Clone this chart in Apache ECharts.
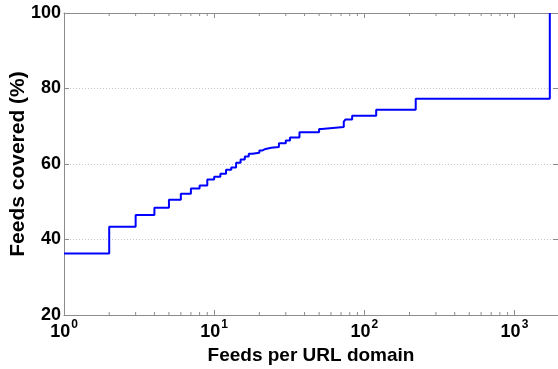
<!DOCTYPE html>
<html>
<head>
<meta charset="utf-8">
<script src="https://cdn.jsdelivr.net/npm/echarts@6/dist/echarts.min.js"></script>
<style>
  html, body { margin: 0; padding: 0; background: #fff; }
  #chart { width: 558px; height: 369px; }
</style>
</head>
<body>
<div id="chart"></div>
<script>
// Cumulative share of feeds covered vs. feeds per URL domain (step curve)
const feedsPerDomain = [1, 2, 3, 4, 5, 6, 7, 8, 9, 10, 11, 12, 13, 14, 15, 16, 17, 18, 20, 21, 22, 24,
  27, 30, 32, 37, 50, 52, 73, 75, 83, 120, 220, 1720];
const feedsCovered = [36.3, 43.4, 46.5, 48.4, 50.5, 52.1, 53.5, 54.3, 55.9, 56.6, 57.4, 58.5, 59.1, 60.3,
  61.2, 62.0, 62.7, 63.0, 63.6, 64.0, 64.3, 64.5, 65.5, 66.2, 67.0, 68.4, 69.3, 69.8, 71.2, 71.8,
  72.8, 74.4, 77.3, 100];

// Log-axis minor tick positions (2..9 in each decade)
const minorTicks = [2, 3, 4, 5, 6, 7, 8, 9, 20, 30, 40, 50, 60, 70, 80, 90, 200, 300, 400, 500, 600, 700, 800, 900];
const yTicks = [20, 40, 60, 80, 100];
const yTitle = 'Feeds covered (%)';
const xTitle = 'Feeds per URL domain';

const FONT = "'Liberation Sans', Arial, sans-serif";
const AXIS_GRAY = '#8c8c8c';
const X_MIN = 1, X_MAX = 1950;

const chart = echarts.init(document.getElementById('chart'), null, { renderer: 'canvas' });

function powLabel(v) {
  const e = Math.log10(v);
  const r = Math.round(e);
  if (Math.abs(e - r) > 1e-6) return '';
  return '{b|10}{s|' + r + '}';
}

const labelRich = {
  b: { fontFamily: FONT, fontWeight: 'bold', fontSize: 18, color: '#000', lineHeight: 22, verticalAlign: 'bottom' },
  s: { fontFamily: FONT, fontWeight: 'bold', fontSize: 12, color: '#000', lineHeight: 22, verticalAlign: 'top', padding: [0, 0, 0, 1] }
};

chart.setOption({
  animation: false,
  backgroundColor: '#fff',
  grid: { left: 64, right: 0, top: 13, bottom: 54, containLabel: false, outerBoundsMode: 'none' },
  // vertical axis title, placed beside the y tick labels
  graphic: [{
    type: 'text',
    x: 18, y: 164,
    rotation: Math.PI / 2,
    style: {
      text: yTitle,
      fontFamily: FONT, fontWeight: 'bold', fontSize: 21, fill: '#000',
      align: 'center', verticalAlign: 'middle'
    },
    silent: true
  }],
  xAxis: [
    {
      type: 'log', logBase: 10, min: X_MIN, max: X_MAX, position: 'bottom',
      name: xTitle, nameLocation: 'middle', nameGap: 31,
      nameTextStyle: { fontFamily: FONT, fontWeight: 'bold', fontSize: 19, color: '#000' },
      axisLine: { show: true, lineStyle: { color: AXIS_GRAY, width: 1 } },
      axisTick: { show: true, inside: true, length: 5, lineStyle: { color: AXIS_GRAY } },
      axisLabel: { formatter: powLabel, rich: labelRich, margin: 4, showMaxLabel: false },
      splitLine: { show: false }
    },
    {
      type: 'log', logBase: 10, min: X_MIN, max: X_MAX, position: 'top',
      axisLine: { show: true, lineStyle: { color: AXIS_GRAY, width: 1 } },
      axisTick: { show: true, inside: true, length: 5, lineStyle: { color: AXIS_GRAY } },
      axisLabel: { show: false },
      splitLine: { show: false }
    }
  ],
  yAxis: [
    {
      type: 'value', min: yTicks[0], max: yTicks[yTicks.length - 1], interval: 20, position: 'left',
      axisLine: { show: true, lineStyle: { color: AXIS_GRAY, width: 1 } },
      axisTick: { show: true, inside: true, length: 5, lineStyle: { color: AXIS_GRAY } },
      axisLabel: { fontFamily: FONT, fontWeight: 'bold', fontSize: 18, color: '#000', margin: 3 },
      splitLine: { show: true, showMinLine: false, showMaxLine: false, lineStyle: { color: '#c8c8c8', type: [1, 2], width: 1 } }
    },
    {
      type: 'value', min: yTicks[0], max: yTicks[yTicks.length - 1], interval: 20, position: 'right',
      axisLine: { show: true, lineStyle: { color: AXIS_GRAY, width: 1 } },
      axisTick: { show: true, inside: true, length: 5, lineStyle: { color: AXIS_GRAY } },
      axisLabel: { show: false },
      splitLine: { show: false }
    }
  ],
  series: [
    {
      type: 'custom',
      silent: true,
      xAxisIndex: 0, yAxisIndex: 0,
      data: minorTicks.map(v => [v, yTicks[0]]),
      encode: { x: 0, y: 1 },
      clip: false,
      renderItem: function (params, api) {
        const v = api.value(0);
        const bot = api.coord([v, yTicks[0]]);
        const top = api.coord([v, yTicks[yTicks.length - 1]]);
        const style = { stroke: AXIS_GRAY, lineWidth: 1 };
        return {
          type: 'group',
          children: [
            { type: 'line', shape: { x1: bot[0], y1: bot[1], x2: bot[0], y2: bot[1] - 3 }, style },
            { type: 'line', shape: { x1: top[0], y1: top[1], x2: top[0], y2: top[1] + 3 }, style }
          ]
        };
      },
      z: 1
    },
    {
      type: 'line',
      xAxisIndex: 0, yAxisIndex: 0,
      step: 'end',
      showSymbol: false,
      data: feedsPerDomain.map((x, i) => [x, feedsCovered[i]]),
      lineStyle: { color: '#0000ff', width: 2 },
      itemStyle: { color: '#0000ff' },
      z: 3
    }
  ]
});
</script>
</body>
</html>
